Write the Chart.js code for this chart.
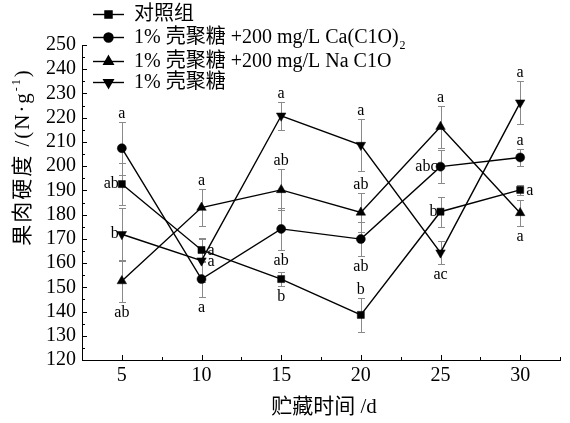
<!DOCTYPE html>
<html>
<head>
<meta charset="utf-8">
<script src="https://cdn.jsdelivr.net/npm/chart.js@4/dist/chart.umd.min.js"></script>
<style>
  html, body { margin: 0; padding: 0; background: #ffffff; }
  #wrap { width: 570px; height: 423px; position: relative; }
</style>
</head>
<body>
<div id="wrap"><canvas id="c" width="570" height="423"></canvas></div>
<script>
// ---------- DATA ----------
const days = [5, 10, 15, 20, 25, 30];
const xTicks = [5, 10, 15, 20, 25, 30];
const yTicks = [120, 130, 140, 150, 160, 170, 180, 190, 200, 210, 220, 230, 240, 250];

const seriesNames = ['对照组', '1% 壳聚糖 +200 mg/L Ca(C1O)', '1% 壳聚糖 +200 mg/L Na C1O', '1% 壳聚糖'];
const seriesSubscripts = ['', '2', '', ''];

const controlVals   = [192.6, 165.4, 153.4, 138.6, 181.2, 190.2];
const caVals        = [207.4, 153.4, 174.1, 169.9, 199.8, 203.6];
const naVals        = [152.6, 182.9, 190.2, 180.9, 216.3, 180.7];
const chitosanVals  = [171.9, 161.0, 220.8, 208.7, 164.3, 226.2];

const controlErr  = [8.6, 5.0, 3.0, 7.1, 6.2, 2.0];
const caErr       = [11.0, 7.3, 8.7, 7.0, 6.7, 3.6];
const naErr       = [8.6, 7.7, 8.5, 7.9, 8.7, 5.5];
const chitosanErr = [11.0, 9.0, 5.8, 10.6, 4.7, 8.8];

const controlLetters  = ['ab', 'a', 'b', 'b', 'b', 'a'];
const caLetters       = ['a', 'a', 'ab', 'ab', 'abc', 'a'];
const naLetters       = ['ab', 'a', 'ab', 'ab', 'a', 'a'];
const chitosanLetters = ['b', 'a', 'a', 'a', 'ac', 'a'];

const xTitle = '贮藏时间 /d';
const yTitleMain = '果肉硬度 /(N·g';
const yTitleSup = '-1';
const yTitleEnd = ')';

// ---------- STYLE / LAYOUT ----------
const letterPlacement = [
  ['left', 'right', 'below', 'above', 'left', 'right'],
  ['above', 'below', 'below', 'below', 'left', 'above'],
  ['below', 'above', 'above', 'above', 'above', 'below'],
  ['left', 'right', 'above', 'above', 'below', 'above']
];
const markerStyles = [
  { pointStyle: 'rect', radius: 5, rotation: 0 },
  { pointStyle: 'circle', radius: 4.5, rotation: 0 },
  { pointStyle: 'triangle', radius: 5.5, rotation: 0 },
  { pointStyle: 'triangle', radius: 5.5, rotation: 180 }
];
const FONT_FAMILY = "'Liberation Serif', 'Noto Sans CJK SC', serif";
const ERR_COLOR = '#8a8a8a';

const allVals = [controlVals, caVals, naVals, chitosanVals];
const allErr = [controlErr, caErr, naErr, chitosanErr];
const allLetters = [controlLetters, caLetters, naLetters, chitosanLetters];

const datasets = allVals.map((vals, i) => ({
  label: seriesNames[i],
  data: days.map((d, j) => ({ x: d, y: vals[j] })),
  borderColor: '#000',
  backgroundColor: '#000',
  borderWidth: 1.4,
  tension: 0,
  pointStyle: markerStyles[i].pointStyle,
  pointRadius: markerStyles[i].radius,
  pointRotation: markerStyles[i].rotation,
  pointBackgroundColor: '#000',
  pointBorderColor: '#000',
  pointBorderWidth: 0.5
}));

const decorPlugin = {
  id: 'decor',
  beforeDatasetsDraw(chart) {
    const ctx = chart.ctx;
    const xs = chart.scales.x, ys = chart.scales.y;
    ctx.save();
    ctx.strokeStyle = ERR_COLOR;
    ctx.lineWidth = 1;
    allVals.forEach((vals, i) => {
      vals.forEach((v, j) => {
        const e = allErr[i][j];
        const px = Math.round(xs.getPixelForValue(days[j])) + 0.5;
        const pt = Math.round(ys.getPixelForValue(v + e)) + 0.5;
        const pb = Math.round(ys.getPixelForValue(v - e)) + 0.5;
        ctx.beginPath();
        ctx.moveTo(px, pt); ctx.lineTo(px, pb);
        ctx.moveTo(px - 3.5, pt); ctx.lineTo(px + 3.5, pt);
        ctx.moveTo(px - 3.5, pb); ctx.lineTo(px + 3.5, pb);
        ctx.stroke();
      });
    });
    ctx.restore();
  },
  afterDatasetsDraw(chart) {
    const ctx = chart.ctx;
    const xs = chart.scales.x, ys = chart.scales.y;
    const area = chart.chartArea;
    ctx.save();
    // letters
    ctx.fillStyle = '#000';
    ctx.font = '16px ' + FONT_FAMILY;
    allVals.forEach((vals, i) => {
      vals.forEach((v, j) => {
        const e = allErr[i][j];
        const px = xs.getPixelForValue(days[j]);
        const py = ys.getPixelForValue(v);
        const pt = ys.getPixelForValue(v + e);
        const pb = ys.getPixelForValue(v - e);
        const txt = allLetters[i][j];
        const pl = letterPlacement[i][j];
        ctx.textBaseline = 'alphabetic';
        if (pl === 'above') { ctx.textAlign = 'center'; ctx.fillText(txt, px, pt - 4); }
        else if (pl === 'below') { ctx.textAlign = 'center'; ctx.fillText(txt, px, pb + 15); }
        else if (pl === 'left') { ctx.textAlign = 'right'; ctx.fillText(txt, px - 3, py + 4); }
        else { ctx.textAlign = 'left'; ctx.fillText(txt, px + 6, py + 5); }
      });
    });
    // inward ticks
    ctx.strokeStyle = '#000';
    ctx.lineWidth = 1;
    ctx.beginPath();
    for (let v = 120; v <= 250; v += 5) {
      const y = Math.round(ys.getPixelForValue(v)) + 0.5;
      const len = (v % 10 === 0) ? 5 : 3;
      ctx.moveTo(area.left, y); ctx.lineTo(area.left + len, y);
    }
    for (let v = 5; v <= 32.5; v += 2.5) {
      const x = Math.round(xs.getPixelForValue(v)) + 0.5;
      const len = (v % 5 === 0) ? 5 : 3;
      ctx.moveTo(x, area.bottom); ctx.lineTo(x, area.bottom - len);
    }
    ctx.stroke();
    // axis titles
    ctx.font = '21px ' + FONT_FAMILY;
    ctx.textAlign = 'center';
    ctx.textBaseline = 'middle';
    ctx.fillText(xTitle, (area.left + area.right) / 2 + 3, 407);
    ctx.save();
    ctx.translate(22, 157);
    ctx.rotate(-Math.PI / 2);
    ctx.letterSpacing = '2px';
    ctx.font = '21px ' + FONT_FAMILY;
    const w1 = ctx.measureText(yTitleMain).width;
    ctx.font = '12px ' + FONT_FAMILY;
    const w2 = ctx.measureText(yTitleSup).width;
    ctx.font = '21px ' + FONT_FAMILY;
    const w3 = ctx.measureText(yTitleEnd).width;
    let sx = -(w1 + w2 + w3) / 2;
    ctx.textAlign = 'left';
    ctx.textBaseline = 'alphabetic';
    ctx.fillText(yTitleMain, sx, 7);
    ctx.font = '12px ' + FONT_FAMILY;
    ctx.fillText(yTitleSup, sx + w1, -2);
    ctx.font = '21px ' + FONT_FAMILY;
    ctx.fillText(yTitleEnd, sx + w1 + w2, 7);
    ctx.restore();
    // legend
    const rowsY = [14, 37, 61, 82];
    seriesNames.forEach((name, i) => {
      const y = rowsY[i];
      ctx.strokeStyle = '#000';
      ctx.lineWidth = 1.4;
      ctx.beginPath();
      ctx.moveTo(93, y + 0.5); ctx.lineTo(124, y + 0.5);
      ctx.stroke();
      ctx.fillStyle = '#000';
      Chart.helpers.drawPoint(ctx, {
        pointStyle: markerStyles[i].pointStyle,
        radius: markerStyles[i].radius,
        rotation: markerStyles[i].rotation,
        borderWidth: 0.5
      }, 108.5, y + 0.5);
      ctx.fill();
      ctx.font = '20px ' + FONT_FAMILY;
      ctx.textAlign = 'left';
      ctx.textBaseline = 'middle';
      ctx.fillText(name, 134, y + 1);
      if (seriesSubscripts[i]) {
        const tw = ctx.measureText(name).width;
        ctx.font = '12px ' + FONT_FAMILY;
        ctx.fillText(seriesSubscripts[i], 134 + tw + 1, y + 9);
      }
    });
    ctx.restore();
  }
};

new Chart(document.getElementById('c'), {
  type: 'line',
  data: { datasets },
  options: {
    responsive: false,
    animation: false,
    devicePixelRatio: 1,
    layout: { padding: { top: 45, right: 10, left: 0, bottom: 0 } },
    plugins: { legend: { display: false }, tooltip: { enabled: false } },
    scales: {
      x: {
        type: 'linear',
        min: 2.5,
        max: 32.5,
        afterBuildTicks: (s) => { s.ticks = xTicks.map(v => ({ value: v })); },
        afterFit: (s) => { s.height = 63; },
        grid: { display: false, drawTicks: false },
        border: { display: true, color: '#000', width: 1 },
        ticks: { color: '#000', padding: 4, autoSkip: false, font: { family: FONT_FAMILY, size: 20 }, maxRotation: 0 }
      },
      y: {
        type: 'linear',
        min: 120,
        max: 250,
        afterBuildTicks: (s) => { s.ticks = yTicks.map(v => ({ value: v })); },
        afterFit: (s) => { s.width = 82; },
        grid: { display: false, drawTicks: false },
        border: { display: true, color: '#000', width: 1 },
        ticks: { color: '#000', padding: 6, autoSkip: false, font: { family: FONT_FAMILY, size: 20 } }
      }
    }
  },
  plugins: [decorPlugin]
});
</script>
</body>
</html>
